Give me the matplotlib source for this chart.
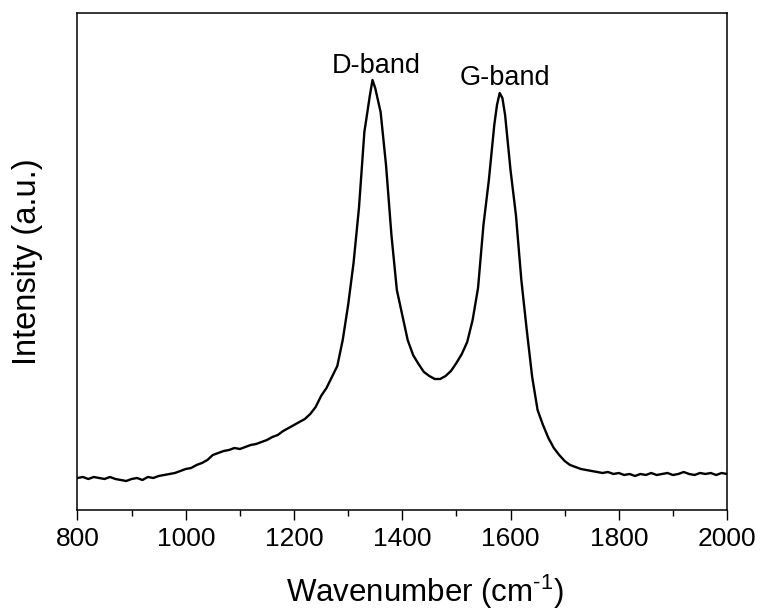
import matplotlib
matplotlib.use("Agg")
import matplotlib.pyplot as plt
from matplotlib.ticker import MultipleLocator

plt.rcParams['font.family'] = ['Liberation Sans', 'DejaVu Sans']
plt.rcParams['mathtext.fontset'] = 'custom'
plt.rcParams['mathtext.rm'] = 'Liberation Sans'
plt.rcParams['mathtext.it'] = 'Liberation Sans'
plt.rcParams['mathtext.sf'] = 'Liberation Sans'
plt.rcParams['mathtext.default'] = 'regular'

wavenumber = [
    800, 810, 820, 830, 840, 850, 860, 870, 880, 890,
    900, 910, 920, 930, 940, 950, 960, 970, 980, 990,
    1000, 1010, 1020, 1030, 1040, 1050, 1060, 1070, 1080, 1090,
    1100, 1110, 1120, 1130, 1140, 1150, 1160, 1170, 1180, 1190,
    1200, 1210, 1220, 1230, 1240, 1250, 1260, 1270, 1280, 1290,
    1300, 1310, 1320, 1330, 1340, 1345, 1350, 1360, 1370, 1380,
    1390, 1400, 1410, 1420, 1430, 1440, 1450, 1460, 1470, 1480,
    1490, 1500, 1510, 1520, 1530, 1540, 1550, 1560, 1570, 1575,
    1580, 1585, 1590, 1600, 1610, 1620, 1630, 1640, 1650, 1660,
    1670, 1680, 1690, 1700, 1710, 1720, 1730, 1740, 1750, 1760,
    1770, 1780, 1790, 1800, 1810, 1820, 1830, 1840, 1850, 1860,
    1870, 1880, 1890, 1900, 1910, 1920, 1930, 1940, 1950, 1960,
    1970, 1980, 1990, 2000,
]
intensity = [
    32, 33, 31, 33, 32, 31, 33, 31, 30, 29,
    31, 32, 30, 33, 32, 34, 35, 36, 37, 39,
    41, 42, 45, 47, 50, 55, 57, 59, 60, 62,
    61, 63, 65, 66, 68, 70, 73, 75, 79, 82,
    85, 88, 91, 96, 103, 114, 122, 133, 144, 170,
    205, 247, 302, 378, 414, 430, 422, 398, 345, 275,
    220, 195, 170, 155, 146, 138, 134, 131, 131, 134,
    139, 147, 156, 168, 190, 222, 285, 330, 385, 405,
    417, 412, 395, 340, 295, 230, 180, 133, 100, 85,
    72, 62, 55, 49, 45, 43, 41, 40, 39, 38,
    37, 38, 36, 37, 35, 36, 34, 36, 35, 37,
    35, 36, 37, 35, 36, 38, 36, 35, 37, 36,
    37, 35, 37, 36,
]
band_labels = ["D-band", "G-band"]
band_label_x = [1352, 1589]
band_label_y = [437, 425]

fig = plt.figure(figsize=(7.62, 6.14), dpi=100)
ax = fig.add_axes([0.1017, 0.1694, 0.8524, 0.8094])
ax.plot(wavenumber, intensity, color='black', linewidth=1.7)

ax.set_xlim(800, 2000)
ax.set_ylim(0, 497)
ax.xaxis.set_major_locator(MultipleLocator(200))
ax.xaxis.set_minor_locator(MultipleLocator(100))
ax.set_yticks([])
ax.tick_params(axis='x', which='major', direction='out', length=7, width=1,
               labelsize=19, pad=5)
ax.tick_params(axis='x', which='minor', direction='out', length=4.3, width=1)
for s in ax.spines.values():
    s.set_linewidth(1.1)

for lab, xp, yp in zip(band_labels, band_label_x, band_label_y):
    ax.text(xp, yp, lab, ha='center', va='baseline', fontsize=19.5)

ax.set_xlabel('Wavenumber (cm$^{\\text{-1}}$)', fontsize=22.5)
ax.xaxis.set_label_coords(0.535, -0.127)
ax.set_ylabel('Intensity (a.u.)', fontsize=23.5)
ax.yaxis.set_label_coords(-0.053, 0.5)

fig.savefig('out.png', dpi=100)
